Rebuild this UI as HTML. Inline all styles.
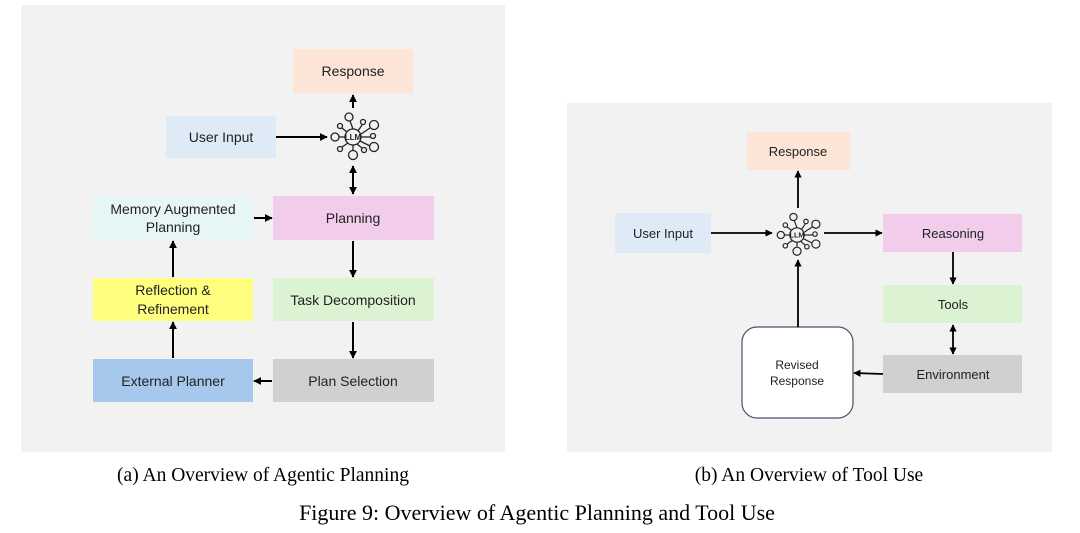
<!DOCTYPE html>
<html><head><meta charset="utf-8"><style>
html,body{margin:0;padding:0;background:#fff;width:1080px;height:533px;overflow:hidden}
svg text{font-family:"Liberation Sans",sans-serif;fill:#222}
.cap{font-family:"Liberation Serif",serif;fill:#000}
</style></head><body>
<svg width="1080" height="533" viewBox="0 0 1080 533" xmlns="http://www.w3.org/2000/svg">
<defs>
<marker id="a" viewBox="0 0 10 10" refX="9" refY="5" markerWidth="4" markerHeight="4" orient="auto-start-reverse"><path d="M0,0 L10,5 L0,10 z" fill="#000"/></marker>
<g id="llm" fill="none" stroke="#222" stroke-width="1.3">
<circle r="8"/>
<line x1="0" y1="-8" x2="-3" y2="-16"/><circle cx="-4" cy="-20" r="4"/>
<line x1="5" y1="-6" x2="9" y2="-12"/><circle cx="10" cy="-15" r="2.5"/>
<line x1="8" y1="-3" x2="17" y2="-9"/><circle cx="21" cy="-12" r="4.5"/>
<line x1="8" y1="0" x2="18" y2="0"/><circle cx="20" cy="-1" r="2.5"/>
<line x1="7" y1="4" x2="17" y2="9"/><circle cx="21" cy="10" r="4.5"/>
<line x1="4" y1="7" x2="9" y2="11"/><circle cx="11" cy="13" r="2.5"/>
<line x1="0" y1="8" x2="0" y2="13"/><circle cx="0" cy="18" r="4.5"/>
<line x1="-5" y1="6" x2="-11" y2="10"/><circle cx="-13" cy="12" r="2.5"/>
<line x1="-8" y1="0" x2="-14" y2="0"/><circle cx="-18" cy="0" r="4"/>
<line x1="-6" y1="-5" x2="-11" y2="-9"/><circle cx="-13" cy="-11" r="2.5"/>
<text x="0" y="3" font-size="8" text-anchor="middle" stroke="none" fill="#222" font-weight="bold" style="font-family:'Liberation Sans Narrow','Liberation Sans',sans-serif">LLM</text>
</g>
</defs>
<rect x="21" y="5" width="484" height="447" fill="#f2f2f2"/>
<rect x="567" y="103" width="485" height="349" fill="#f2f2f2"/>

<g font-size="14" text-anchor="middle">
<rect x="293" y="49" width="120" height="44" fill="#fce4d6"/><text x="353" y="76">Response</text>
<rect x="166" y="116" width="110" height="42" fill="#deebf7"/><text x="221" y="142">User Input</text>
<rect x="273" y="196" width="161" height="44" fill="#f2cdeb"/><text x="353" y="223">Planning</text>
<rect x="93" y="197" width="160" height="42" fill="#e6f5f5"/><text x="173" y="214">Memory Augmented</text><text x="173" y="232">Planning</text>
<rect x="93" y="278" width="160" height="43" fill="#ffff7f"/><text x="173" y="295">Reflection &amp;</text><text x="173" y="314">Refinement</text>
<rect x="273" y="278" width="161" height="43" fill="#dbf2d3"/><text x="353" y="305">Task Decomposition</text>
<rect x="93" y="359" width="160" height="43" fill="#a6c8ec"/><text x="173" y="386">External Planner</text>
<rect x="273" y="359" width="161" height="43" fill="#d0d0d0"/><text x="353" y="386">Plan Selection</text>
</g>
<use href="#llm" x="353" y="137"/>
<g stroke="#000" stroke-width="2" fill="none">
<line x1="353" y1="108" x2="353" y2="95" marker-end="url(#a)"/>
<line x1="276" y1="137" x2="327" y2="137" marker-end="url(#a)"/>
<line x1="353" y1="166" x2="353" y2="194" marker-start="url(#a)" marker-end="url(#a)"/>
<line x1="254" y1="218" x2="272" y2="218" marker-end="url(#a)"/>
<line x1="353" y1="241" x2="353" y2="277" marker-end="url(#a)"/>
<line x1="353" y1="322" x2="353" y2="358" marker-end="url(#a)"/>
<line x1="272" y1="381" x2="254" y2="381" marker-end="url(#a)"/>
<line x1="173" y1="358" x2="173" y2="322" marker-end="url(#a)"/>
<line x1="173" y1="277" x2="173" y2="241" marker-end="url(#a)"/>
</g>

<g font-size="13" text-anchor="middle">
<rect x="747" y="132" width="103" height="38" fill="#fce4d6"/><text x="798" y="156">Response</text>
<rect x="615" y="213" width="96" height="40" fill="#deebf7"/><text x="663" y="238">User Input</text>
<rect x="883" y="214" width="139" height="38" fill="#f2cdeb"/><text x="953" y="238">Reasoning</text>
<rect x="883" y="285" width="139" height="38" fill="#dbf2d3"/><text x="953" y="309">Tools</text>
<rect x="883" y="355" width="139" height="38" fill="#d0d0d0"/><text x="953" y="379">Environment</text>
<rect x="742" y="327" width="111" height="91" rx="15" fill="#fff" stroke="#44546a" stroke-width="1.2"/>
<text x="797" y="369" font-size="12">Revised</text><text x="797" y="385" font-size="12">Response</text>
</g>
<use href="#llm" x="797" y="235" transform="translate(797 235) scale(0.9) translate(-797 -235)"/>
<g stroke="#000" stroke-width="1.8" fill="none">
<line x1="711" y1="233" x2="772" y2="233" marker-end="url(#a)"/>
<line x1="824" y1="233" x2="882" y2="233" marker-end="url(#a)"/>
<line x1="798" y1="208" x2="798" y2="171" marker-end="url(#a)"/>
<line x1="798" y1="327" x2="798" y2="260" marker-end="url(#a)"/>
<line x1="953" y1="252" x2="953" y2="284" marker-end="url(#a)"/>
<line x1="953" y1="325" x2="953" y2="354" marker-start="url(#a)" marker-end="url(#a)"/>
<line x1="883" y1="374" x2="854" y2="373" marker-end="url(#a)"/>
</g>

<text class="cap" x="263" y="481" font-size="19.5" text-anchor="middle">(a) An Overview of Agentic Planning</text>
<text class="cap" x="809" y="481" font-size="19.5" text-anchor="middle">(b) An Overview of Tool Use</text>
<text class="cap" x="537" y="520" font-size="22" text-anchor="middle">Figure 9: Overview of Agentic Planning and Tool Use</text>
</svg>
</body></html>
